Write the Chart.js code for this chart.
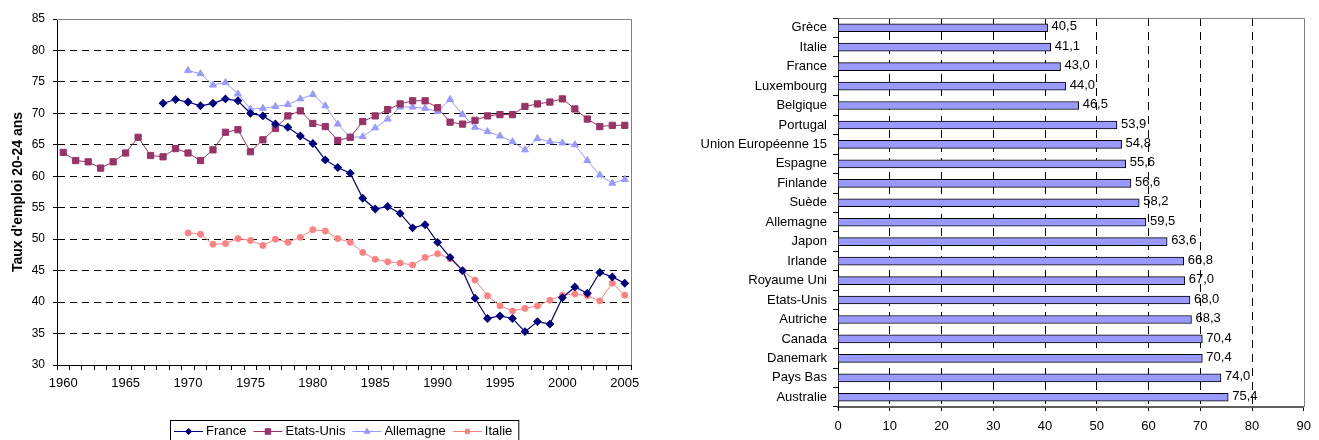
<!DOCTYPE html>
<html>
<head>
<meta charset="utf-8">
<script src="https://cdn.jsdelivr.net/npm/chart.js@4.4.1/dist/chart.umd.min.js"></script>
<style>
  body { margin: 0; background: #fff; }
  #wrap { position: relative; width: 1319px; height: 440px; }
  #lineCanvas { position: absolute; left: 0; top: 0; }
  #barCanvas { position: absolute; left: 650px; top: 0; }
</style>
</head>
<body>
<div id="wrap">
  <canvas id="lineCanvas" width="650" height="440"></canvas>
  <canvas id="barCanvas" width="669" height="440"></canvas>
</div>
<script>
// Years on the x-axis of the line chart
var years = [1960,1961,1962,1963,1964,1965,1966,1967,1968,1969,
             1970,1971,1972,1973,1974,1975,1976,1977,1978,1979,
             1980,1981,1982,1983,1984,1985,1986,1987,1988,1989,
             1990,1991,1992,1993,1994,1995,1996,1997,1998,1999,
             2000,2001,2002,2003,2004,2005];
// Employment rate 20-24 years, per country
var france = [null,null,null,null,null,null,null,null,71.6,72.2,
              71.8,71.2,71.6,72.3,72.0,70.0,69.6,68.3,67.8,66.4,
              65.2,62.6,61.4,60.5,56.5,54.8,55.2,54.1,51.8,52.3,
              49.5,47.1,45.0,40.6,37.4,37.8,37.4,35.3,36.9,36.5,
              40.7,42.4,41.4,44.7,44.0,43.0];
var etatsUnis = [63.8,62.5,62.3,61.3,62.3,63.7,66.2,63.3,63.1,64.4,
                 63.7,62.5,64.2,67.0,67.4,63.9,65.8,67.6,69.6,70.4,
                 68.4,67.9,65.7,66.2,68.7,69.6,70.6,71.5,72.0,72.0,
                 70.9,68.6,68.3,68.9,69.6,69.8,69.8,71.1,71.5,71.8,
                 72.3,70.7,69.1,67.9,68.1,68.1];
var allemagne = [null,null,null,null,null,null,null,null,null,null,
                 76.8,76.3,74.5,74.9,73.1,70.7,70.8,71.1,71.4,72.3,
                 73.0,71.2,68.3,66.2,66.3,67.7,69.1,71.0,71.0,70.8,
                 70.3,72.2,69.8,67.8,67.1,66.4,65.5,64.2,66.0,65.5,
                 65.3,65.0,62.5,60.2,58.9,59.5];
var italie = [null,null,null,null,null,null,null,null,null,null,
              51.0,50.8,49.2,49.3,50.1,49.8,49.0,50.0,49.5,50.3,
              51.5,51.3,50.1,49.5,47.9,46.8,46.4,46.2,45.9,47.1,
              47.7,46.9,45.0,43.5,41.0,39.4,38.6,39.0,39.4,40.3,
              41.1,41.3,41.0,40.2,43.0,41.1];

// Bar chart: countries and their rate
var countries = ["Grèce","Italie","France","Luxembourg","Belgique","Portugal",
                 "Union Européenne 15","Espagne","Finlande","Suède","Allemagne",
                 "Japon","Irlande","Royaume Uni","Etats-Unis","Autriche","Canada",
                 "Danemark","Pays Bas","Australie"];
var rates = [40.5,41.1,43.0,44.0,46.5,53.9,54.8,55.6,56.6,58.2,59.5,
             63.6,66.8,67.0,68.0,68.3,70.4,70.4,74.0,75.4];

var FONT = "'Liberation Sans', Arial, sans-serif";
Chart.defaults.font.family = FONT;
Chart.defaults.color = '#000';

// gray frame on top and right of the plot area
var plotFrame = {
  id: 'plotFrame',
  beforeDatasetsDraw: function(chart) {
    var a = chart.chartArea, ctx = chart.ctx;
    var t = Math.round(a.top) + 0.5, r = Math.round(a.right) + 0.5;
    ctx.save();
    ctx.strokeStyle = '#808080';
    ctx.lineWidth = 1;
    ctx.beginPath();
    ctx.moveTo(a.left, t);
    ctx.lineTo(r, t);
    ctx.lineTo(r, a.bottom);
    ctx.stroke();
    ctx.restore();
  }
};

// legend in a box, line + marker like the original
var boxLegend = {
  id: 'boxLegend',
  afterDraw: function(chart) {
    var ctx = chart.ctx;
    var left = 170, top = 420, x = 174, y = 431;
    ctx.save();
    ctx.font = '13px ' + FONT;
    ctx.textBaseline = 'middle';
    chart.data.datasets.forEach(function(ds) {
      ctx.strokeStyle = ds.borderColor;
      ctx.lineWidth = 1;
      ctx.beginPath();
      ctx.moveTo(x, y + 0.5);
      ctx.lineTo(x + 29, y + 0.5);
      ctx.stroke();
      ctx.fillStyle = ds.pointBackgroundColor;
      ctx.strokeStyle = ds.borderColor;
      if (Chart.helpers && Chart.helpers.drawPoint) {
        Chart.helpers.drawPoint(ctx, {pointStyle: ds.pointStyle, radius: ds.pointRadius - 0.5, rotation: 0, borderWidth: 1}, x + 14.5, y + 0.5);
      } else {
        ctx.beginPath(); ctx.arc(x + 14.5, y + 0.5, 3, 0, Math.PI * 2); ctx.fill();
      }
      ctx.fillStyle = '#000';
      ctx.fillText(ds.label, x + 32, y);
      x += 32 + ctx.measureText(ds.label).width + 7;
    });
    ctx.strokeStyle = '#000';
    ctx.lineWidth = 1;
    ctx.strokeRect(left + 0.5, top + 0.5, x - 7 + 6 - left, 30);
    ctx.restore();
  }
};

// value labels at the end of each bar
var barValues = {
  id: 'barValues',
  afterDatasetsDraw: function(chart) {
    var ctx = chart.ctx, meta = chart.getDatasetMeta(0);
    ctx.save();
    ctx.font = '13px ' + FONT;
    ctx.fillStyle = '#000';
    ctx.textAlign = 'left';
    ctx.textBaseline = 'middle';
    meta.data.forEach(function(bar, i) {
      var v = chart.data.datasets[0].data[i];
      ctx.fillText(v.toFixed(1).replace('.', ','), bar.x + 4, bar.y - 1);
    });
    ctx.restore();
  }
};

var lineChart = new Chart(document.getElementById('lineCanvas'), {
  type: 'line',
  data: {
    labels: years,
    datasets: [
      { label: 'France', data: france, borderColor: '#000080', pointBackgroundColor: '#000080',
        pointStyle: 'rectRot', pointRadius: 3.6, borderWidth: 1.2 },
      { label: 'Etats-Unis', data: etatsUnis, borderColor: '#993366', pointBackgroundColor: '#993366',
        pointStyle: 'rect', pointRadius: 4.4, borderWidth: 1 },
      { label: 'Allemagne', data: allemagne, borderColor: '#9999FF', pointBackgroundColor: '#9999FF',
        pointStyle: 'triangle', pointRadius: 4, borderWidth: 1 },
      { label: 'Italie', data: italie, borderColor: '#FF8080', pointBackgroundColor: '#FF8080',
        pointStyle: 'circle', pointRadius: 3, borderWidth: 1 }
    ]
  },
  options: {
    responsive: false,
    animation: false,
    layout: { padding: { top: 19, right: 19, bottom: 45, left: 0 } },
    elements: { line: { tension: 0 }, point: { borderWidth: 1 } },
    plugins: { legend: { display: false }, tooltip: { enabled: false } },
    scales: {
      x: {
        offset: true,
        grid: { offset: true, drawOnChartArea: false, tickLength: 5, tickColor: '#000' },
        border: { color: '#000', width: 1 },
        ticks: {
          autoSkip: false, maxRotation: 0, padding: 6, font: { size: 13 },
          callback: function(v, i) { return years[i] % 5 === 0 ? years[i] : ''; }
        },
        afterFit: function(s) { s.height = 30; }
      },
      y: {
        min: 30, max: 85,
        ticks: { stepSize: 5, padding: 8, font: { size: 12 } },
        grid: {
          color: function(c) { return (c.tick.value === 30 || c.tick.value === 85) ? 'rgba(0,0,0,0)' : '#000'; },
          tickLength: 4, tickColor: '#000'
        },
        border: { color: '#000', width: 1, dash: [7, 5] },
        title: { display: true, text: "Taux d'emploi 20-24 ans", font: { size: 14, weight: 'bold' }, padding: { top: 10, bottom: 0 } },
        afterFit: function(s) { s.width = 57; }
      }
    }
  },
  plugins: [plotFrame, boxLegend]
});

var barChart = new Chart(document.getElementById('barCanvas'), {
  type: 'bar',
  data: {
    labels: countries,
    datasets: [{ data: rates, backgroundColor: '#9999FF', borderColor: '#000', borderWidth: 1, barThickness: 8 }]
  },
  options: {
    indexAxis: 'y',
    responsive: false,
    animation: false,
    layout: { padding: { top: 18, right: 8, bottom: 0, left: 0 } },
    plugins: { legend: { display: false }, tooltip: { enabled: false } },
    scales: {
      x: {
        min: 0, max: 90,
        ticks: { stepSize: 10, padding: 8, font: { size: 13 } },
        grid: {
          color: function(c) { return (c.tick.value === 0 || c.tick.value === 90) ? 'rgba(0,0,0,0)' : '#000'; },
          tickLength: 4, tickColor: '#000'
        },
        border: { color: '#606060', width: 2, dash: [8, 6] },
        afterFit: function(s) { s.height = 33; }
      },
      y: {
        grid: { offset: true, drawOnChartArea: false, tickLength: 5, tickColor: '#000' },
        border: { color: '#000', width: 1 },
        ticks: { autoSkip: false, padding: 6, font: { size: 13 } },
        afterFit: function(s) { s.width = 188; }
      }
    }
  },
  plugins: [plotFrame, barValues]
});
</script>
</body>
</html>
